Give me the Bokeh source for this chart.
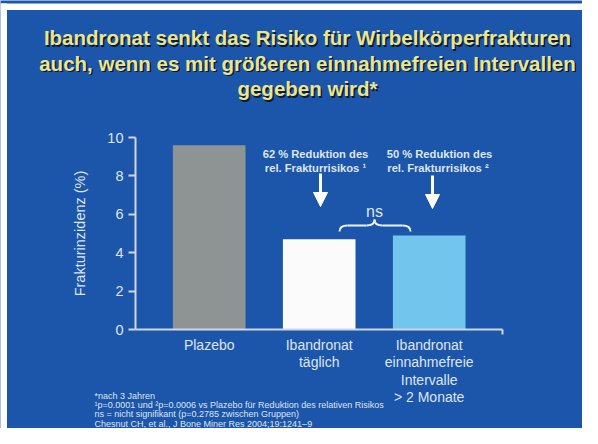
from bokeh.plotting import figure
from bokeh.models import ColumnDataSource, FixedTicker, Arrow, NormalHead, Range1d
from bokeh.core.properties import value
from bokeh.embed import file_html
from bokeh.resources import INLINE

# ---- data ----
categories = ["Plazebo", "Ibandronat\ntäglich", "Ibandronat\neinnahmefreie\nIntervalle\n> 2 Monate"]
incidence = [9.6, 4.7, 4.9]
bar_colors = ["#8e9394", "#fbfbfb", "#72c5ec"]
y_ticks = [0, 2, 4, 6, 8, 10]
title_lines = ["Ibandronat senkt das Risiko für Wirbelkörperfrakturen",
               "auch, wenn es mit größeren einnahmefreien Intervallen",
               "gegeben wird*"]
annot_1 = ["62 % Reduktion des", "rel. Frakturrisikos ¹"]
annot_2 = ["50 % Reduktion des", "rel. Frakturrisikos  ²"]
footnotes = ["*nach 3 Jahren",
             "¹p=0.0001 und ²p=0.0006 vs Plazebo für Reduktion des relativen Risikos",
             "ns = nicht signifikant  (p=0.2785 zwischen Gruppen)"]
citation = "Chesnut CH, et al., J Bone Miner Res 2004;19:1241–9"

BG = "#1c56aa"
FG = "#dfe5ef"
AX = "#cfd6e4"
FONT = "Liberation Sans"

xs = [1, 2, 3]
X_LO, X_HI = 0.33, 3.67

# canvas-pixel helpers for placing annotations (frame covers the whole canvas)
def X(px):
    return (px - 135) / 110 + X_LO

def Y(py):
    return (329 - py) / 19.2

W, H = 582, 428
p = figure(width=W, height=H, output_backend="svg", toolbar_location=None,
           x_range=Range1d(X(0), X(W)), y_range=Range1d(Y(H), Y(0)),
           min_border=0)
p.min_border_left = 0
p.min_border_right = 0
p.min_border_top = 0
p.min_border_bottom = 0
p.background_fill_color = BG
p.border_fill_color = BG
p.outline_line_color = None
p.grid.visible = False

# slide border (white band on top and left)
p.quad(left=[X(0), X(0)], right=[X(W), X(6.5)], top=[Y(3), Y(3)], bottom=[Y(9.5), Y(H)],
       fill_color="white", line_color=None)

src = ColumnDataSource(dict(x=xs, top=incidence, color=bar_colors))
p.vbar(x="x", top="top", width=0.66, bottom=0, color="color", source=src, line_color=None)

# y axis
ya = p.yaxis[0]
ya.fixed_location = X_LO
ya.bounds = (0, 10)
ya.ticker = FixedTicker(ticks=y_ticks, minor_ticks=[])
ya.axis_label = "Frakturinzidenz (%)"
ya.axis_label_text_font = FONT
ya.axis_label_text_font_style = "normal"
ya.axis_label_text_font_size = "14.5px"
ya.axis_label_text_color = FG
ya.axis_label_standoff = 16
ya.major_label_text_font = FONT
ya.major_label_text_font_size = "14.5px"
ya.major_label_text_color = FG
ya.major_label_standoff = 5
ya.axis_line_color = AX
ya.axis_line_width = 2
ya.major_tick_line_color = AX
ya.major_tick_line_width = 2
ya.major_tick_out = 7
ya.major_tick_in = 0

# x axis
xa = p.xaxis[0]
xa.fixed_location = 0
xa.bounds = (X_LO, X_HI)
xa.ticker = FixedTicker(ticks=xs, minor_ticks=[X_HI])
xa.major_label_overrides = {x: c for x, c in zip(xs, categories)}
xa.major_label_text_font = FONT
xa.major_label_text_font_size = "14px"
xa.major_label_text_color = FG
xa.major_label_text_line_height = 1.1
xa.major_label_standoff = 1
xa.axis_line_color = AX
xa.axis_line_width = 2
xa.major_tick_line_color = None
xa.minor_tick_line_color = AX
xa.minor_tick_line_width = 2
xa.minor_tick_out = 5
xa.minor_tick_in = 0

# title with drop shadow
for i, t in enumerate(title_lines):
    py = 37 + 25.5 * i
    for col, off in (("#0b1a33", 1.5), ("#ece58e", 0)):
        p.text(x=[X(307)], y=[Y(py)], text=[t], x_offset=off, y_offset=off,
               text_align="center", text_baseline="middle", text_font=value(FONT),
               text_font_style="bold", text_font_size="20.5px", text_color=col)

# annotations above bars
for lines, cx in ((annot_1, 315), (annot_2, 439)):
    for i, t in enumerate(lines):
        p.text(x=[X(cx)], y=[Y(153 + 14 * i)], text=[t], text_align="center",
               text_baseline="middle", text_font=value(FONT), text_font_style="bold",
               text_font_size="11.2px", text_color=FG)

for ax, y0, y1 in ((320, 173, 206), (432, 175, 208)):
    p.add_layout(Arrow(end=NormalHead(size=14, fill_color="white", line_color="white"),
                       x_start=X(ax), y_start=Y(y0), x_end=X(ax), y_end=Y(y1),
                       line_color="white", line_width=3))

# brace + ns
bc = 374
bl, br, bt, bm, bb = 339, 410, 219, 225, 231
brace_col = "#f0f3f8"
for s in (-1, 1):
    xe = bl if s < 0 else br
    p.quadratic(x0=[X(xe)], y0=[Y(bb)], x1=[X(xe - s * 8)], y1=[Y(bm)],
                cx=[X(xe)], cy=[Y(bm)], line_color=brace_col, line_width=2)
    p.segment(x0=[X(xe - s * 8)], y0=[Y(bm)], x1=[X(bc + s * 8)], y1=[Y(bm)],
              line_color=brace_col, line_width=2)
    p.quadratic(x0=[X(bc + s * 8)], y0=[Y(bm)], x1=[X(bc)], y1=[Y(bt)],
                cx=[X(bc)], cy=[Y(bm)], line_color=brace_col, line_width=2)
p.text(x=[X(bc)], y=[Y(211)], text=["ns"], text_align="center", text_baseline="middle",
       text_font=value(FONT), text_font_size="16px", text_color=FG)

# footnotes
for i, t in enumerate(footnotes + [citation]):
    p.text(x=[X(94)], y=[Y(395 + 9.4 * i)], text=[t], text_align="left", text_baseline="middle",
           text_font=value(FONT), text_font_size="9px", text_color=FG)

open("out.html", "w").write(file_html(p, INLINE))
